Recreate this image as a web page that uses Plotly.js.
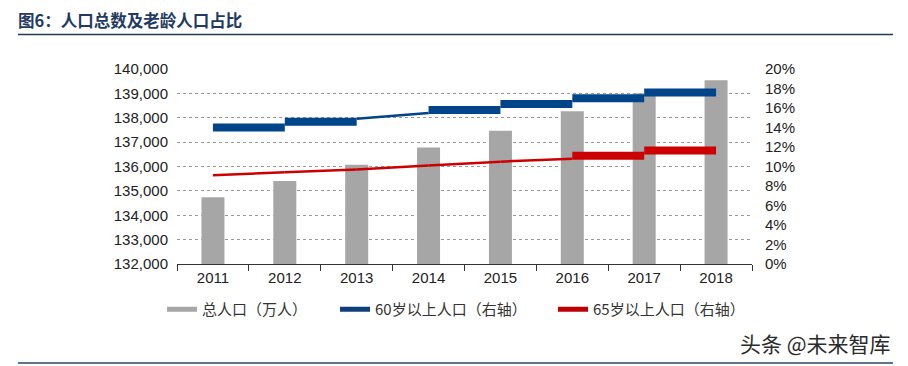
<!DOCTYPE html>
<html>
<head>
<meta charset="utf-8">
<script src="https://cdn.plot.ly/plotly-3.0.1.min.js"></script>
<style>
  html, body { margin: 0; padding: 0; background: #ffffff; }
  #chart { width: 908px; height: 366px; }
</style>
</head>
<body>
<div id="chart"></div>
<script>
// ---- data ----
const years = ['2011', '2012', '2013', '2014', '2015', '2016', '2017', '2018'];
const totalPop = [134735, 135404, 136072, 136782, 137462, 138271, 139008, 139538]; // 万人
const share60 = [13.7, 14.3, 14.9, 15.5, 16.1, 16.7, 17.3, 17.9]; // %
const share65 = [9.1, 9.4, 9.7, 10.1, 10.5, 10.8, 11.4, 11.9];   // %
const leftTicks = [132000, 133000, 134000, 135000, 136000, 137000, 138000, 139000, 140000];
const rightTicks = [0, 2, 4, 6, 8, 10, 12, 14, 16, 18, 20];
const rightTickText = ['0%', '2%', '4%', '6%', '8%', '10%', '12%', '14%', '16%', '18%', '20%'];
const nameTotal = '总人口（万人）';
const name60 = '60岁以上人口（右轴）';
const name65 = '65岁以上人口（右轴）';
const titleText = '图6：人口总数及老龄人口占比';
const watermark = '头条 @未来智库';

// ---- style ----
const W = 908, H = 366;
const M = { l: 177, r: 156, t: 69, b: 102 };
const plotW = W - M.l - M.r, plotH = H - M.t - M.b;
const px2x = p => (p - M.l) / plotW;
const px2y = p => (H - M.b - p) / plotH;
const numFont = 'Liberation Sans, Arial, sans-serif';
const cjkFont = 'Noto Sans CJK SC, sans-serif';
const grey = '#a6a6a6', blue = '#00458a', red = '#cc0000';
// which connecting segments are drawn in the heavy (flat) style
const heavy60 = [0, 1, 3, 4, 5, 6];
const heavy65 = [5, 6];

function segmentTraces(vals, heavy, color) {
  const out = [];
  for (let i = 0; i < vals.length - 1; i++) {
    const isHeavy = heavy.indexOf(i) >= 0;
    const m = (vals[i] + vals[i + 1]) / 2;
    out.push({
      type: 'scatter', mode: 'lines', yaxis: 'y2',
      x: [years[i], years[i + 1]],
      y: isHeavy ? [m, m] : [vals[i], vals[i + 1]],
      line: { color: color, width: isHeavy ? 8 : 2.5 },
      showlegend: false, hoverinfo: 'skip'
    });
  }
  return out;
}

const traces = [
  {
    type: 'bar', x: years, y: totalPop, width: 0.32,
    marker: { color: grey }, showlegend: false, name: nameTotal
  },
  ...segmentTraces(share60, heavy60, blue),
  ...segmentTraces(share65, heavy65, red),
  { type: 'scatter', mode: 'lines', x: [null], y: [null], name: nameTotal,
    line: { color: grey, width: 5 }, legend: 'legend' },
  { type: 'scatter', mode: 'lines', x: [null], y: [null], name: name60,
    line: { color: '#0d3f7c', width: 5 }, legend: 'legend2' },
  { type: 'scatter', mode: 'lines', x: [null], y: [null], name: name65,
    line: { color: '#c00000', width: 5 }, legend: 'legend3' }
];

const legendBase = {
  orientation: 'h', yanchor: 'middle', xanchor: 'left',
  y: px2y(309.5), bgcolor: 'rgba(0,0,0,0)',
  font: { family: cjkFont, size: 15, color: '#333333' }
};

const layout = {
  width: W, height: H,
  margin: M,
  paper_bgcolor: '#ffffff', plot_bgcolor: '#ffffff',
  title: {
    text: '<b>' + titleText + '</b>',
    x: 18 / W, xref: 'container', xanchor: 'left',
    y: 1 - 21 / H, yref: 'container', yanchor: 'middle',
    font: { family: cjkFont, size: 16.5, color: '#1f3b64' }
  },
  xaxis: {
    type: 'category', range: [-0.5, 7.5],
    showline: true, linecolor: '#333333', linewidth: 1,
    ticks: 'outside', tickson: 'boundaries', ticklen: 6, tickcolor: '#333333',
    showgrid: false, zeroline: false,
    tickfont: { family: numFont, size: 15, color: '#222222' }
  },
  yaxis: {
    range: [132000, 140000], tickvals: leftTicks,
    tickformat: ',d', separatethousands: true,
    showline: false, ticks: '', ticklabelstandoff: 8,
    showgrid: true, gridcolor: '#999999', griddash: 'dot', gridwidth: 1,
    zeroline: false,
    tickfont: { family: numFont, size: 15, color: '#222222' }
  },
  yaxis2: {
    overlaying: 'y', side: 'right', range: [0, 20],
    tickmode: 'array', tickvals: rightTicks, ticktext: rightTickText,
    showline: false, ticks: '', ticklabelstandoff: 12,
    showgrid: false, zeroline: false,
    tickfont: { family: numFont, size: 15, color: '#222222' }
  },
  legend: Object.assign({}, legendBase, { x: px2x(162) }),
  legend2: Object.assign({}, legendBase, { x: px2x(335) }),
  legend3: Object.assign({}, legendBase, { x: px2x(553) }),
  shapes: [
    { type: 'line', xref: 'paper', yref: 'paper',
      x0: px2x(18), x1: px2x(893), y0: px2y(34.5), y1: px2y(34.5),
      line: { color: '#1f3b5c', width: 1.5 } },
    { type: 'line', xref: 'paper', yref: 'paper',
      x0: px2x(18), x1: px2x(893), y0: px2y(363), y1: px2y(363),
      line: { color: '#2a4766', width: 1.5 } }
  ],
  annotations: [
    { text: watermark, xref: 'paper', yref: 'paper',
      x: px2x(893), y: px2y(343), xanchor: 'right', yanchor: 'middle',
      showarrow: false,
      font: { family: cjkFont, size: 21, color: '#2b2b2b' } }
  ]
};

Plotly.newPlot('chart', traces, layout, { displayModeBar: false, staticPlot: true });
</script>
</body>
</html>
